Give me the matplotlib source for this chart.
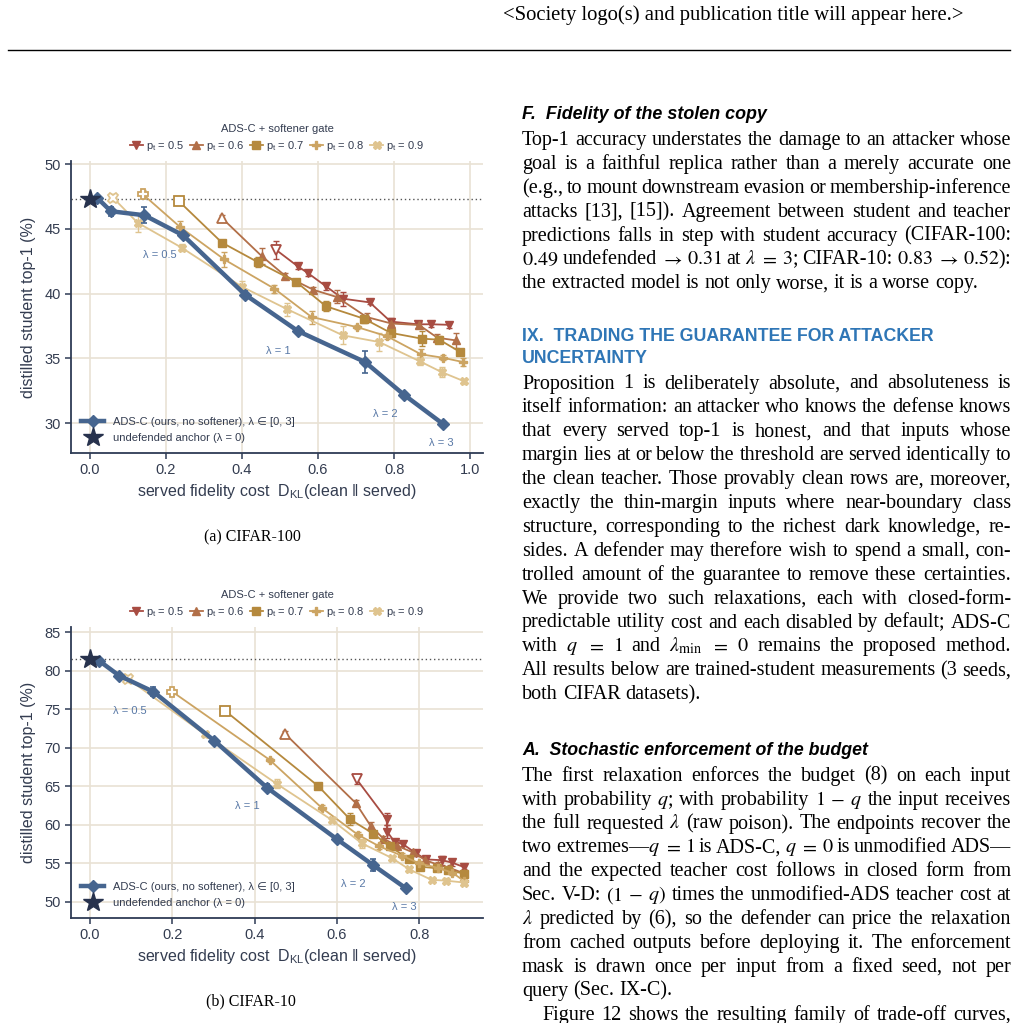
import matplotlib
matplotlib.use('Agg')
import matplotlib.pyplot as plt
from matplotlib.lines import Line2D

plt.rcParams['font.family'] = ['Liberation Sans', 'DejaVu Sans']
plt.rcParams['mathtext.fontset'] = 'custom'
plt.rcParams['mathtext.rm'] = 'Liberation Sans'
plt.rcParams['mathtext.it'] = 'Liberation Sans:italic'
plt.rcParams['mathtext.bf'] = 'Liberation Sans:bold'

W, H = 1018, 1023

# ---- data: CIFAR-100 ----
c100_anchor = 47.35
c100_blue_x = [0.018, 0.055, 0.143, 0.245, 0.408, 0.547, 0.724, 0.826, 0.928]
c100_blue_y = [47.43, 46.37, 46.06, 44.51, 39.93, 37.12, 34.72, 32.2, 29.96]
c100_blue_e = [0.1, 0.35, 0.6, 0.2, 0.25, 0.15, 0.85, 0.15, 0.15]

c100_p05_x = [0.489, 0.546, 0.574, 0.621, 0.665, 0.736, 0.791, 0.862, 0.898, 0.944]
c100_p05_y = [43.4, 42.13, 41.58, 40.57, 39.62, 39.33, 37.85, 37.64, 37.64, 37.6]
c100_p05_e = [0.7, 0.2, 0.2, 0.25, 0.55, 0.15, 0.3, 0.25, 0.2, 0.25]
c100_p06_x = [0.347, 0.452, 0.513, 0.588, 0.649, 0.728, 0.793, 0.866, 0.914, 0.962]
c100_p06_y = [45.85, 42.9, 41.4, 40.3, 39.75, 38.2, 37.7, 37.58, 36.6, 36.4]
c100_p06_e = [0.25, 0.6, 0.2, 0.2, 0.5, 0.35, 0.25, 0.2, 0.3, 0.6]
c100_p07_x = [0.233, 0.347, 0.441, 0.543, 0.621, 0.721, 0.791, 0.873, 0.919, 0.974]
c100_p07_y = [47.17, 43.95, 42.45, 40.9, 39.03, 38.07, 36.98, 36.53, 36.45, 35.5]
c100_p07_e = [0.15, 0.2, 0.4, 0.2, 0.4, 0.3, 0.25, 0.6, 0.25, 0.2]
c100_p08_x = [0.139, 0.237, 0.353, 0.485, 0.583, 0.702, 0.782, 0.871, 0.928, 0.982]
c100_p08_y = [47.68, 45.15, 42.65, 40.39, 38.2, 37.43, 36.71, 35.32, 35.06, 34.72]
c100_p08_e = [0.3, 0.45, 0.6, 0.3, 0.5, 0.15, 0.2, 0.45, 0.2, 0.3]
c100_p09_x = [0.06, 0.125, 0.241, 0.399, 0.519, 0.665, 0.761, 0.868, 0.925, 0.985]
c100_p09_y = [47.43, 45.49, 43.56, 40.55, 38.8, 36.79, 36.27, 34.78, 33.95, 33.23]
c100_p09_e = [0.3, 0.7, 0.25, 0.4, 0.5, 0.7, 0.7, 0.3, 0.4, 0.2]

c100_lam_text = ['λ = 0.5', 'λ = 1', 'λ = 2', 'λ = 3']
c100_lam_x = [0.184, 0.495, 0.776, 0.925]
c100_lam_y = [42.97, 35.57, 30.73, 28.46]

# ---- data: CIFAR-10 ----
c10_anchor = 81.45
c10_blue_x = [0.023, 0.071, 0.154, 0.302, 0.43, 0.6, 0.687, 0.767]
c10_blue_y = [81.24, 79.34, 77.26, 70.91, 64.82, 58.13, 54.8, 51.78]
c10_blue_e = [0.3, 0.4, 0.6, 0.3, 0.4, 0.3, 0.8, 0.3]

c10_p05_x = [0.648, 0.721, 0.722, 0.74, 0.76, 0.792, 0.817, 0.855, 0.879, 0.909]
c10_p05_y = [65.9, 60.7, 59.1, 57.8, 57.5, 56.3, 55.5, 55.4, 55.1, 54.5]
c10_p05_e = [0.6, 0.8, 0.8, 0.3, 0.3, 0.3, 0.3, 0.6, 0.5, 0.3]
c10_p06_x = [0.474, 0.646, 0.682, 0.713, 0.745, 0.785, 0.815, 0.846, 0.876, 0.909]
c10_p06_y = [71.8, 62.8, 59.85, 58.2, 57.3, 56.4, 55.4, 54.8, 54.35, 53.7]
c10_p06_e = [0.3, 0.4, 0.5, 0.3, 0.3, 0.3, 0.3, 0.3, 0.4, 0.3]
c10_p07_x = [0.328, 0.555, 0.632, 0.688, 0.728, 0.774, 0.803, 0.844, 0.871, 0.909]
c10_p07_y = [74.8, 65.0, 60.7, 58.85, 57.2, 55.6, 54.55, 54.35, 54.1, 53.65]
c10_p07_e = [0.3, 0.3, 0.8, 0.4, 0.3, 0.3, 0.3, 0.3, 0.3, 0.4]
c10_p08_x = [0.2, 0.437, 0.563, 0.651, 0.703, 0.757, 0.8, 0.845, 0.88, 0.909]
c10_p08_y = [77.26, 68.4, 62.2, 58.7, 57.2, 56.0, 55.0, 54.4, 53.8, 52.7]
c10_p08_e = [0.3, 0.3, 0.3, 0.3, 0.3, 0.3, 0.3, 0.3, 0.3, 0.3]
c10_p09_x = [0.093, 0.279, 0.454, 0.587, 0.66, 0.733, 0.776, 0.83, 0.864, 0.909]
c10_p09_y = [78.9, 71.74, 65.3, 60.64, 57.6, 55.7, 54.2, 52.85, 52.75, 52.5]
c10_p09_e = [0.3, 0.3, 0.6, 0.3, 0.6, 0.3, 0.3, 0.3, 0.3, 0.3]

c10_lam_text = ['λ = 0.5', 'λ = 1', 'λ = 2', 'λ = 3']
c10_lam_x = [0.096, 0.382, 0.64, 0.764]
c10_lam_y = [74.76, 62.37, 52.3, 49.39]

pt_labels = [r'p$_\mathrm{t}$ = 0.5', r'p$_\mathrm{t}$ = 0.6', r'p$_\mathrm{t}$ = 0.7',
             r'p$_\mathrm{t}$ = 0.8', r'p$_\mathrm{t}$ = 0.9']
pt_colors = ['#a84c42', '#b26f48', '#b5893d', '#cca462', '#dfc48f']
pt_markers = ['v', '^', 's', 'P', 'X']

# ---- page text ----
header = '<Society logo(s) and publication title will appear here.>'
head_F = 'F.  Fidelity of the stolen copy'
body_F = [
    'Top-1 accuracy understates the damage to an attacker whose',
    'goal is a faithful replica rather than a merely accurate one',
    '(e.g., to mount downstream evasion or membership-inference',
    'attacks [13], [15]). Agreement between student and teacher',
    'predictions falls in step with student accuracy (CIFAR-100:',
    r'$0.49$ undefended $\rightarrow$ $0.31$ at $\lambda$ $=$ $3$; CIFAR-10: $0.83$ $\rightarrow$ $0.52$):',
    'the extracted model is not only worse, it is a worse copy.',
]
head_IX = ['IX.  TRADING THE GUARANTEE FOR ATTACKER', 'UNCERTAINTY']
body_IX = [
    'Proposition 1 is deliberately absolute, and absoluteness is',
    'itself information: an attacker who knows the defense knows',
    'that every served top-1 is honest, and that inputs whose',
    'margin lies at or below the threshold are served identically to',
    'the clean teacher. Those provably clean rows are, moreover,',
    'exactly the thin-margin inputs where near-boundary class',
    'structure, corresponding to the richest dark knowledge, re-',
    'sides. A defender may therefore wish to spend a small, con-',
    'trolled amount of the guarantee to remove these certainties.',
    'We provide two such relaxations, each with closed-form-',
    'predictable utility cost and each disabled by default; ADS-C',
    r'with $q$ $=$ $1$ and $\lambda_{\min}$ $=$ $0$ remains the proposed method.',
    'All results below are trained-student measurements (3 seeds,',
    'both CIFAR datasets).',
]
head_A = 'A.  Stochastic enforcement of the budget'
body_A = [
    'The first relaxation enforces the budget (8) on each input',
    r'with probability $q$; with probability $1$ $-$ $q$ the input receives',
    r'the full requested $\lambda$ (raw poison). The endpoints recover the',
    r'two extremes—$q$ $=$ $1$ is ADS-C, $q$ $=$ $0$ is unmodified ADS—',
    'and the expected teacher cost follows in closed form from',
    r'Sec. V-D: $(1$ $-$ $q)$ times the unmodified-ADS teacher cost at',
    r'$\lambda$ predicted by (6), so the defender can price the relaxation',
    'from cached outputs before deploying it. The enforcement',
    'mask is drawn once per input from a fixed seed, not per',
    'query (Sec. IX-C).',
]
body_A2 = 'Figure 12 shows the resulting family of trade-off curves,'

navy = '#2e3b55'
blue = '#46658f'
star_c = '#27324d'
lam_c = '#5878a6'
grid_c = '#e9e2d4'
txt_c = '#333c50'


def draw_panel(ax, anchor, bx, by, be, series, lam_text, lam_x, lam_y, xlim, ylim, xticks, yticks):
    ax.axhline(anchor, color='#555555', ls=(0, (1, 2)), lw=1.0, zorder=1)
    for (x, y, e), c, m in zip(series, pt_colors, pt_markers):
        ax.errorbar(x, y, yerr=e, fmt='none', ecolor=c, elinewidth=1.0, capsize=2, capthick=1.0, zorder=3)
        ax.plot(x, y, color=c, lw=1.3, marker=m, ms=5.5, markevery=list(range(1, len(x))), zorder=4)
        ax.plot(x[0], y[0], ls='none', marker=m, ms=7.5, mfc='white', mec=c, mew=1.3, zorder=5)
    ax.errorbar(bx, by, yerr=be, fmt='none', ecolor=blue, elinewidth=1.2, capsize=2.5, capthick=1.2, zorder=6)
    ax.plot(bx, by, color=blue, lw=3.2, marker='D', ms=6.5, zorder=7)
    ax.plot(0, anchor, ls='none', marker='*', ms=15, color=star_c, zorder=8)
    for t, x, y in zip(lam_text, lam_x, lam_y):
        ax.text(x, y, t, color=lam_c, fontsize=8, ha='center', va='center')

    ax.set_xlim(xlim)
    ax.set_ylim(ylim)
    ax.set_xticks(xticks)
    ax.set_yticks(yticks)
    ax.grid(True, color=grid_c, lw=1.2)
    ax.set_axisbelow(True)
    for s in ['top', 'right']:
        ax.spines[s].set_visible(False)
    for s in ['left', 'bottom']:
        ax.spines[s].set_color(navy)
        ax.spines[s].set_linewidth(1.3)
    ax.tick_params(direction='out', length=4, width=1.1, colors=navy, labelsize=10.5, labelcolor=txt_c)
    ax.set_xlabel(r'served fidelity cost  D$_\mathrm{KL}$(clean ‖ served)', fontsize=11.5, color=txt_c)
    ax.set_ylabel('distilled student top-1 (%)', fontsize=11.5, color=txt_c)
    ax.xaxis.set_label_coords(0.5, -0.1)
    ax.yaxis.set_label_coords(-0.085, 0.5)

    handles = [Line2D([], [], color=c, marker=m, ms=5.5, lw=1.3) for c, m in zip(pt_colors, pt_markers)]
    leg = ax.legend(handles, pt_labels, loc='lower center', bbox_to_anchor=(0.5, 1.0), ncol=5,
                    frameon=False, fontsize=8, title='ADS-C + softener gate', title_fontsize=8,
                    handlelength=1.2, handletextpad=0.25, columnspacing=0.5, borderaxespad=0.3,
                    labelcolor=txt_c)
    leg.get_title().set_color(txt_c)
    ax.add_artist(leg)
    h2 = [Line2D([], [], color=blue, marker='D', ms=6.5, lw=3.2),
          Line2D([], [], ls='none', marker='*', ms=15, color=star_c)]
    ax.legend(h2, ['ADS-C (ours, no softener), λ ∈ [0, 3]', 'undefended anchor (λ = 0)'],
              loc='lower left', frameon=False, fontsize=8, handlelength=2.1, labelspacing=0.55,
              borderaxespad=0.5, labelcolor=txt_c)


fig = plt.figure(figsize=(W / 100, H / 100), dpi=100)

ax1 = fig.add_axes([71 / W, 1 - 453 / H, 412 / W, 292 / H])
draw_panel(ax1, c100_anchor, c100_blue_x, c100_blue_y, c100_blue_e,
           [(c100_p05_x, c100_p05_y, c100_p05_e), (c100_p06_x, c100_p06_y, c100_p06_e),
            (c100_p07_x, c100_p07_y, c100_p07_e), (c100_p08_x, c100_p08_y, c100_p08_e),
            (c100_p09_x, c100_p09_y, c100_p09_e)],
           c100_lam_text, c100_lam_x, c100_lam_y, (-0.05, 1.034), (27.7, 50.25),
           [0.0, 0.2, 0.4, 0.6, 0.8, 1.0], [30, 35, 40, 45, 50])

ax2 = fig.add_axes([71 / W, 1 - 918 / H, 412 / W, 291 / H])
draw_panel(ax2, c10_anchor, c10_blue_x, c10_blue_y, c10_blue_e,
           [(c10_p05_x, c10_p05_y, c10_p05_e), (c10_p06_x, c10_p06_y, c10_p06_e),
            (c10_p07_x, c10_p07_y, c10_p07_e), (c10_p08_x, c10_p08_y, c10_p08_e),
            (c10_p09_x, c10_p09_y, c10_p09_e)],
           c10_lam_text, c10_lam_x, c10_lam_y, (-0.046, 0.955), (47.9, 85.65),
           [0.0, 0.2, 0.4, 0.6, 0.8], [50, 55, 60, 65, 70, 75, 80, 85])

serif = 'Liberation Serif'
fs_body = 14.5
fig.text(252 / W, 1 - 537 / H, '(a) CIFAR-100', family=serif, fontsize=11.5, ha='center', va='center')
fig.text(251 / W, 1 - 1001 / H, '(b) CIFAR-10', family=serif, fontsize=11.5, ha='center', va='center')

# ---- page furniture ----
fig.text(503 / W, 1 - 20 / H, header, family=serif, fontsize=14.9, va='baseline')
fig.add_artist(Line2D([8 / W, 1010 / W], [1 - 50 / H, 1 - 50 / H], color='black', lw=1.0))

renderer = fig.canvas.get_renderer()
X0, X1 = 522, 1011


def tokens(line):
    out, cur, inmath = [], '', False
    for ch in line:
        if ch == '$':
            inmath = not inmath
        if ch == ' ' and not inmath:
            if cur:
                out.append(cur)
            cur = ''
        else:
            cur += ch
    if cur:
        out.append(cur)
    return out


def body_line(s, base, justify=True, indent=0):
    toks = tokens(s)
    texts = [fig.text(0, 1 - base / H, t, family=serif, fontsize=fs_body, va='baseline',
                      math_fontfamily='stix') for t in toks]
    widths = [t.get_window_extent(renderer).width for t in texts]
    x = X0 + indent
    space = fs_body * 100 / 72 * 0.25
    if justify and len(toks) > 1:
        gap = (X1 - x - sum(widths)) / (len(toks) - 1)
    else:
        gap = space
    for t, w in zip(texts, widths):
        t.set_x(x / W)
        x += w + gap


def paragraph(lines, base0, pitch=23.9):
    for i, s in enumerate(lines):
        body_line(s, base0 + i * pitch, justify=(i < len(lines) - 1))


fig.text(X0 / W, 1 - 119 / H, head_F, fontsize=12.9, weight='bold', style='italic', va='baseline')
paragraph(body_F, 145)
fig.text(X0 / W, 1 - 341 / H, head_IX[0], fontsize=12.8, weight='bold', color='#2f76b6', va='baseline')
fig.text(X0 / W, 1 - 363 / H, head_IX[1], fontsize=12.8, weight='bold', color='#2f76b6', va='baseline')
paragraph(body_IX, 388.5)
fig.text(X0 / W, 1 - 755 / H, head_A, fontsize=12.75, weight='bold', style='italic', va='baseline')
paragraph(body_A, 780.7)
body_line(body_A2, 780.7 + 10 * 23.9, justify=True, indent=20)

fig.savefig('out.png', dpi=100)
